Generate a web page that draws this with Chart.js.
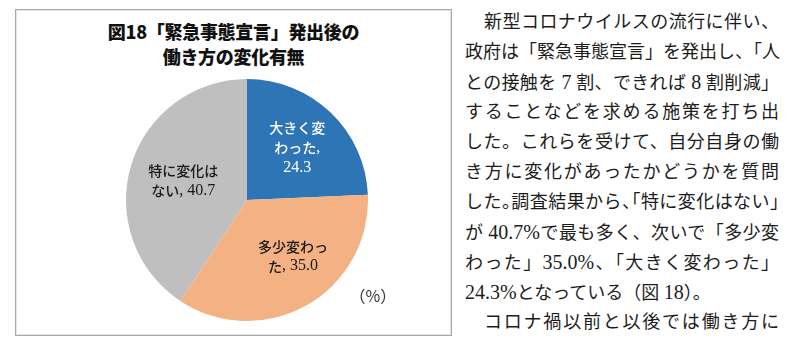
<!DOCTYPE html>
<html lang="ja">
<head>
<meta charset="UTF-8">
<title>働き方の変化有無</title>
<script src="https://cdn.jsdelivr.net/npm/chart.js@4"></script>
<style>
  html, body { margin: 0; padding: 0; background: #fff; }
  body { width: 800px; height: 343px; position: relative; overflow: hidden; }
  .box {
    position: absolute; left: 15px; top: 9px; width: 435px; height: 325px;
    border: 1px solid #a9a9a9; box-shadow: inset 0 0 0 1px #e4e4e4;
  }
  .box h1 {
    position: absolute; left: 0; top: 9px; width: 100%; margin: 0;
    text-align: center; font: 900 18px/25px "Noto Sans CJK JP", sans-serif; color: #111;
    letter-spacing: -0.3px;
  }
  .box canvas { position: absolute; left: 0; top: 0; }
  .text {
    position: absolute; left: 465px; top: 7px; width: 314px;
    font-family: "Liberation Serif", "Noto Sans CJK JP", serif;
    font-size: 18px; color: #1c1c1c;
  }
  .text div {
    height: 30px; line-height: 30px; white-space: nowrap;
    text-align: justify; text-align-last: justify;
  }
  .text div.indent { padding-left: 19px; }
  .text div.end { text-align-last: left; }
  .text div.tight { font-feature-settings: "halt"; }
  .text .n { font-size: 20px; }
</style>
</head>
<body>
<div class="box">
  <h1>図18「緊急事態宣言」発出後の<br>働き方の変化有無</h1>
  <canvas id="pie" width="435" height="325"></canvas>
</div>
<div class="text">
  <div class="indent">新型コロナウイルスの流行に伴い、</div>
  <div>政府は「緊急事態宣言」を発出し、「人</div>
  <div>との接触を <span class="n">7</span> 割、できれば <span class="n">8</span> 割削減」</div>
  <div>することなどを求める施策を打ち出</div>
  <div>した。これらを受けて、自分自身の働</div>
  <div>き方に変化があったかどうかを質問</div>
  <div class="tight">した。調査結果から、「特に変化はない」</div>
  <div>が <span class="n">40.7%</span>で最も多く、次いで「多少変</div>
  <div>わった」<span class="n">35.0%</span>、「大きく変わった」</div>
  <div class="end"><span class="n">24.3%</span>となっている（図 <span class="n">18</span>）。</div>
  <div class="indent">コロナ禍以前と以後では働き方に</div>
</div>
<script>
  // 回答区分と割合（%）
  const categories = ['大きく変わった', '多少変わった', '特に変化はない'];
  const shares = [24.3, 35.0, 40.7];
  const colors = ['#2E75B6', '#F4B183', '#BFBFBF'];
  // データラベルの改行位置
  const labelLines = [['大きく変', 'わった,'], ['多少変わっ', 'た,'], ['特に変化は', 'ない,']];
  const valueOnOwnLine = [true, false, false];
  const labelColors = ['#ffffff', '#1a1a1a', '#1a1a1a'];

  const JP_FONT = '500 14px "Noto Sans CJK JP", sans-serif';
  const NUM_FONT = '16px "Liberation Serif", serif';

  // 全角部分はゴシック、半角部分はセリフで描く
  function drawMixed(ctx, text, cx, cy) {
    const runs = text.match(/[\x20-\x7e]+|[^\x20-\x7e]+/g) || [];
    let total = 0;
    const widths = runs.map(r => {
      ctx.font = /^[\x20-\x7e]+$/.test(r) ? NUM_FONT : JP_FONT;
      const w = ctx.measureText(r).width;
      total += w;
      return w;
    });
    let x = cx - total / 2;
    runs.forEach((r, i) => {
      ctx.font = /^[\x20-\x7e]+$/.test(r) ? NUM_FONT : JP_FONT;
      ctx.fillText(r, x, cy);
      x += widths[i];
    });
  }

  const sliceLabels = {
    id: 'sliceLabels',
    afterDatasetsDraw(chart, args, opts) {
      const ctx = chart.ctx;
      const meta = chart.getDatasetMeta(0);
      ctx.save();
      ctx.textAlign = 'left';
      ctx.textBaseline = 'middle';
      meta.data.forEach((arc, i) => {
        const mid = (arc.startAngle + arc.endAngle) / 2 + opts.angleShift[i];
        const r = arc.outerRadius * opts.radius[i];
        const cx = arc.x + Math.cos(mid) * r;
        const cy = arc.y + Math.sin(mid) * r;
        const value = shares[i].toFixed(1);
        const lines = labelLines[i].slice();
        if (valueOnOwnLine[i]) lines.push(value);
        else lines[lines.length - 1] += ' ' + value;
        const lh = 20;
        ctx.fillStyle = labelColors[i];
        lines.forEach((line, j) => {
          drawMixed(ctx, line, cx, cy + (j - (lines.length - 1) / 2) * lh);
        });
      });
      // 単位
      const a = meta.data[0];
      ctx.fillStyle = '#333';
      ctx.font = '16px "Noto Sans CJK JP", sans-serif';
      ctx.textAlign = 'center';
      ctx.fillText('（%）', a.x + a.outerRadius * 1.04, a.y + a.outerRadius * 0.79);
      ctx.restore();
    }
  };

  new Chart(document.getElementById('pie'), {
    type: 'pie',
    data: {
      labels: categories,
      datasets: [{
        data: shares,
        backgroundColor: colors,
        borderWidth: 0
      }]
    },
    options: {
      responsive: false,
      animation: false,
      devicePixelRatio: 1,
      layout: { padding: { top: 69, bottom: 14, left: 27, right: 0 } },
      plugins: {
        legend: { display: false },
        tooltip: { enabled: false },
        sliceLabels: {
          radius: [0.6, 0.6, 0.55],
          angleShift: [0, -0.17, 0]
        }
      }
    },
    plugins: [sliceLabels]
  });
</script>
</body>
</html>
